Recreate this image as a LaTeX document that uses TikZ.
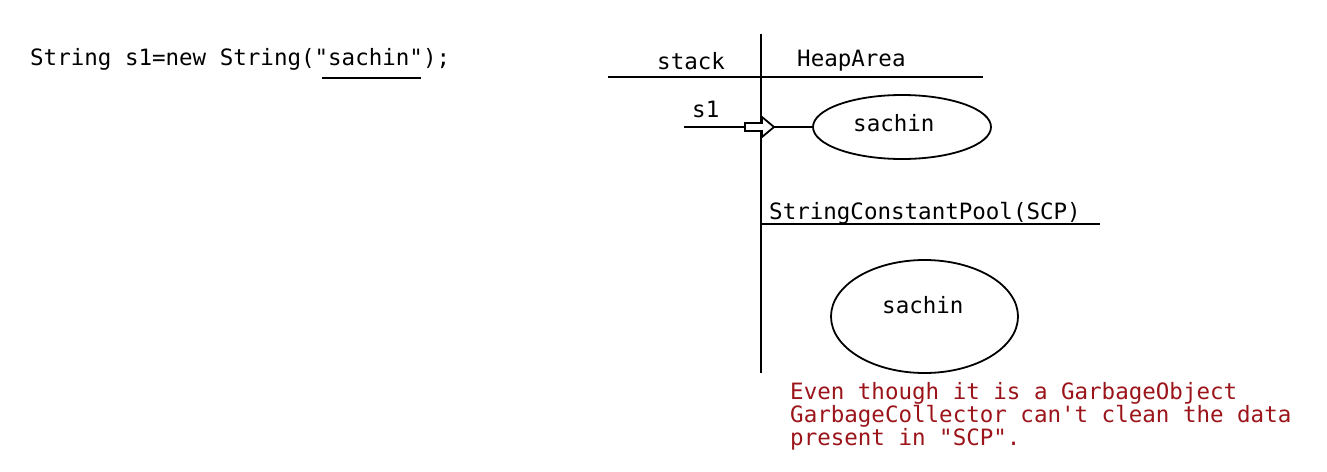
\documentclass[tikz,border=0pt]{standalone}
\usepackage{fontspec}
\setmonofont{DejaVu Sans Mono}
\usepackage{tikz}
\usetikzlibrary{shapes.geometric}
\definecolor{notered}{RGB}{155,20,25}

\tikzset{
    mono/.style={font=\ttfamily\fontsize{22.5}{23}\selectfont, inner sep=0pt, anchor=base west},
    wall/.style={line width=1.8pt},
    strobj/.style={draw, ellipse, line width=1.8pt, inner sep=0pt}
}

\begin{document}
\begin{tikzpicture}[x=1pt, y=-1pt]
    \useasboundingbox (0,0) rectangle (1327,471);

    % code line
    \node[mono] (code) at (30,65) {String s1=new String("sachin");};
    \coordinate (ulA) at (322,78);
    \coordinate (ulB) at (421,78);
    \draw[wall] (ulA) -- (ulB);

    % memory areas
    \coordinate (vTop) at (761,34);
    \coordinate (vBot) at (761,373);
    \coordinate (hL) at (608,77);
    \coordinate (hR) at (983,77);
    \coordinate (scpL) at (761,224);
    \coordinate (scpR) at (1100,224);

    \draw[wall] (vTop) -- (vBot);
    \draw[wall] (hL) -- (hR);
    \draw[wall] (scpL) -- (scpR);

    \node[mono] (stack) at (657,69) {stack};
    \node[mono] (heap) at (797,66) {HeapArea};
    \node[mono] (scp) at (769,219) {StringConstantPool(SCP)};

    % objects
    \node[strobj, minimum width=178pt, minimum height=64pt] (heapobj) at (902,127) {};
    \node[strobj, minimum width=187pt, minimum height=113pt] (scpobj) at (924.5,316.5) {};
    \node[mono] (heaptxt) at (853,131) {sachin};
    \node[mono] (scptxt) at (882,313) {sachin};

    % reference s1
    \node[mono] (s1) at (692,117) {s1};
    \coordinate (refTail) at (684,127);
    \coordinate (arrTail) at (745,127);
    \coordinate (arrTip) at (774,127);
    \draw[wall] (refTail) -- (arrTail);
    \draw[wall, fill=white]
        (arrTail) ++(0,-4) -- ++(17,0) -- ++(0,-6) -- (arrTip) -- ++(-12,10) -- ++(0,-6) -- ++(-17,0) -- cycle;
    \draw[wall] (arrTip) -- (heapobj.west);

    % note
    \node[mono, align=left, text=notered, anchor=north west] (note) at (790,382)
        {Even though it is a GarbageObject\\GarbageCollector can't clean the data\\present in "SCP".};
\end{tikzpicture}
\end{document}
